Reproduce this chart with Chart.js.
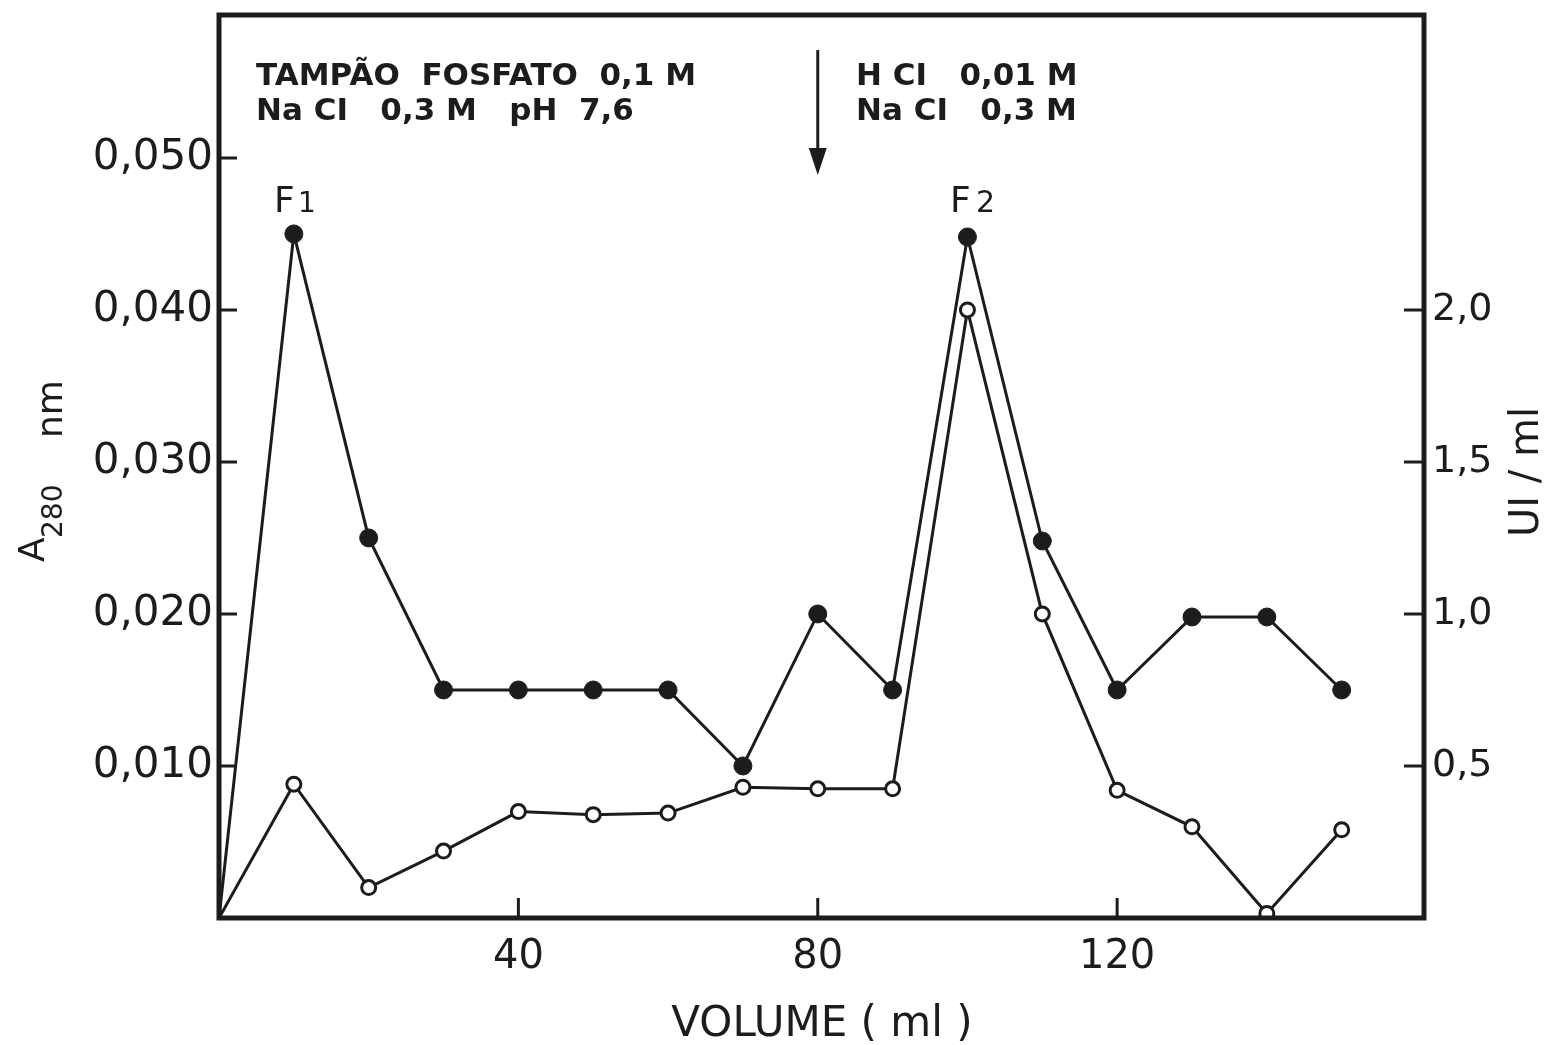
<!DOCTYPE html>
<html lang="pt">
<head>
<meta charset="utf-8">
<title>Cromatografia - A280 / UI/ml</title>
<script src="https://cdn.jsdelivr.net/npm/chart.js@4/dist/chart.umd.min.js"></script>
<style>
    html, body { margin: 0; padding: 0; background: #fff; }
    canvas { display: block; }
</style>
</head>
<body>
<canvas id="grafico" width="1549" height="1045"></canvas>
<script>
// Dados
const volumes = [0, 10, 20, 30, 40, 50, 60, 70, 80, 90, 100, 110, 120, 130, 140, 150];
const absorbancia = [0, 0.045, 0.025, 0.015, 0.015, 0.015, 0.015, 0.010, 0.020, 0.015, 0.0448, 0.0248, 0.015, 0.0198, 0.0198, 0.015];
const atividade = [0, 0.44, 0.10, 0.22, 0.35, 0.34, 0.345, 0.43, 0.425, 0.425, 2.0, 1.0, 0.42, 0.30, 0.015, 0.29];

const ticksVolume = [40, 80, 120];
const ticksAbs = [0.010, 0.020, 0.030, 0.040, 0.050];
const ticksUI = [0.5, 1.0, 1.5, 2.0];

(() => {
    const INK = '#1c1c1e';
    const FONTE = '"DejaVu Sans", sans-serif';

    const pontos = (ys) => volumes.map((v, i) => ({ x: v, y: ys[i] }));
    const raios = (r) => volumes.map((v, i) => (i === 0 ? 0 : r));
    const virgula = (casas) => (v) => Number(v).toFixed(casas).replace('.', ',');
    const fixarTicks = (valores) => (scale) => {
        scale.ticks = valores.map(v => ({ value: v }));
    };
    // Tamanho fixo do eixo, sem margem extra para os rótulos
    const fixarTamanho = (prop, px) => (s) => {
        s[prop] = px;
        s.paddingTop = 0; s.paddingBottom = 0;
        s.paddingLeft = 0; s.paddingRight = 0;
    };

    /**
     * Moldura, marcas internas dos eixos, títulos e anotações
     */
    const decoracao = {
        id: 'decoracao',
        afterDatasetsDraw(chart) {
            const { ctx, chartArea: a, scales } = chart;
            ctx.save();
            ctx.strokeStyle = INK;
            ctx.fillStyle = INK;

            // Marcas para dentro
            ctx.lineWidth = 3;
            ctx.beginPath();
            ticksAbs.forEach(v => {
                const y = scales.y.getPixelForValue(v);
                ctx.moveTo(a.left, y); ctx.lineTo(a.left + 18, y);
            });
            ticksUI.forEach(v => {
                const y = scales.y2.getPixelForValue(v);
                ctx.moveTo(a.right, y); ctx.lineTo(a.right - 20, y);
            });
            ticksVolume.forEach(v => {
                const x = scales.x.getPixelForValue(v);
                ctx.moveTo(x, a.bottom); ctx.lineTo(x, a.bottom - 20);
            });
            ctx.stroke();

            // Moldura
            ctx.lineWidth = 5;
            ctx.strokeRect(a.left, a.top, a.right - a.left, a.bottom - a.top);

            // Anotações
            ctx.textBaseline = 'alphabetic';
            ctx.textAlign = 'left';
            ctx.font = 'bold 31px ' + FONTE;
            ctx.fillText('TAMPÃO  FOSFATO  0,1 M', 256, 85);
            ctx.fillText('Na CI   0,3 M   pH  7,6', 256, 120);
            ctx.fillText('H CI   0,01 M', 856, 85);
            ctx.fillText('Na CI   0,3 M', 856, 120);

            // Seta
            const xs = scales.x.getPixelForValue(80);
            ctx.lineWidth = 3;
            ctx.beginPath();
            ctx.moveTo(xs, 50); ctx.lineTo(xs, 152);
            ctx.stroke();
            ctx.beginPath();
            ctx.moveTo(xs - 9, 148); ctx.lineTo(xs + 9, 148); ctx.lineTo(xs, 175);
            ctx.closePath();
            ctx.fill();

            // Picos F1 e F2
            ctx.font = '36px ' + FONTE;
            ctx.fillText('F', 274, 212);
            ctx.font = '28px ' + FONTE;
            ctx.fillText('1', 298, 212);
            ctx.font = '36px ' + FONTE;
            ctx.fillText('F', 950, 212);
            ctx.font = '30px ' + FONTE;
            ctx.fillText('2', 976, 212);

            // Título do eixo x
            ctx.textAlign = 'center';
            ctx.font = '42px ' + FONTE;
            ctx.fillText('VOLUME ( ml )', 822, 1036);

            // Título esquerdo: A280 nm
            ctx.save();
            ctx.translate(0, 562);
            ctx.rotate(-Math.PI / 2);
            ctx.textAlign = 'left';
            ctx.font = '36px ' + FONTE;
            ctx.fillText('A', 0, 44);
            ctx.font = '28px ' + FONTE;
            ctx.fillText('280', 24, 62);
            ctx.font = '36px ' + FONTE;
            ctx.fillText('nm', 124, 62);
            ctx.restore();

            // Título direito: UI / ml
            ctx.save();
            ctx.translate(1538, 472);
            ctx.rotate(-Math.PI / 2);
            ctx.textAlign = 'center';
            ctx.font = '40px ' + FONTE;
            ctx.fillText('UI / ml', 0, 0);
            ctx.restore();

            ctx.restore();
        }
    };

    new Chart(document.getElementById('grafico'), {
        type: 'line',
        data: {
            datasets: [
                {
                    label: 'A280 nm',
                    data: pontos(absorbancia),
                    yAxisID: 'y',
                    borderColor: INK,
                    borderWidth: 3,
                    pointRadius: raios(9),
                    pointBackgroundColor: INK,
                    pointBorderColor: INK,
                    pointBorderWidth: 1,
                    tension: 0
                },
                {
                    label: 'UI/ml',
                    data: pontos(atividade),
                    yAxisID: 'y2',
                    borderColor: INK,
                    borderWidth: 3,
                    pointRadius: raios(7),
                    pointBackgroundColor: '#ffffff',
                    pointBorderColor: INK,
                    pointBorderWidth: 3,
                    tension: 0
                }
            ]
        },
        options: {
            responsive: false,
            animation: false,
            layout: { padding: { top: 15, left: 0, right: 0, bottom: 0 } },
            plugins: {
                legend: { display: false },
                tooltip: { enabled: false }
            },
            scales: {
                x: {
                    type: 'linear',
                    min: 0,
                    max: 161,
                    grid: { display: false, drawTicks: false },
                    border: { display: false },
                    afterBuildTicks: fixarTicks(ticksVolume),
                    afterFit: fixarTamanho('height', 127),
                    ticks: {
                        color: INK,
                        padding: 16,
                        font: { family: FONTE, size: 40 },
                        callback: (v) => String(v)
                    }
                },
                y: {
                    position: 'left',
                    min: 0,
                    max: 0.0594,
                    grid: { display: false, drawTicks: false },
                    border: { display: false },
                    afterBuildTicks: fixarTicks(ticksAbs),
                    afterFit: fixarTamanho('width', 219),
                    ticks: {
                        color: INK,
                        padding: 6,
                        font: { family: FONTE, size: 42 },
                        callback: virgula(3)
                    }
                },
                y2: {
                    position: 'right',
                    min: 0,
                    max: 2.97,
                    grid: { display: false, drawTicks: false },
                    border: { display: false },
                    afterBuildTicks: fixarTicks(ticksUI),
                    afterFit: fixarTamanho('width', 125),
                    ticks: {
                        color: INK,
                        padding: 8,
                        font: { family: FONTE, size: 38 },
                        callback: virgula(1)
                    }
                }
            }
        },
        plugins: [decoracao]
    });
})();
</script>
</body>
</html>
